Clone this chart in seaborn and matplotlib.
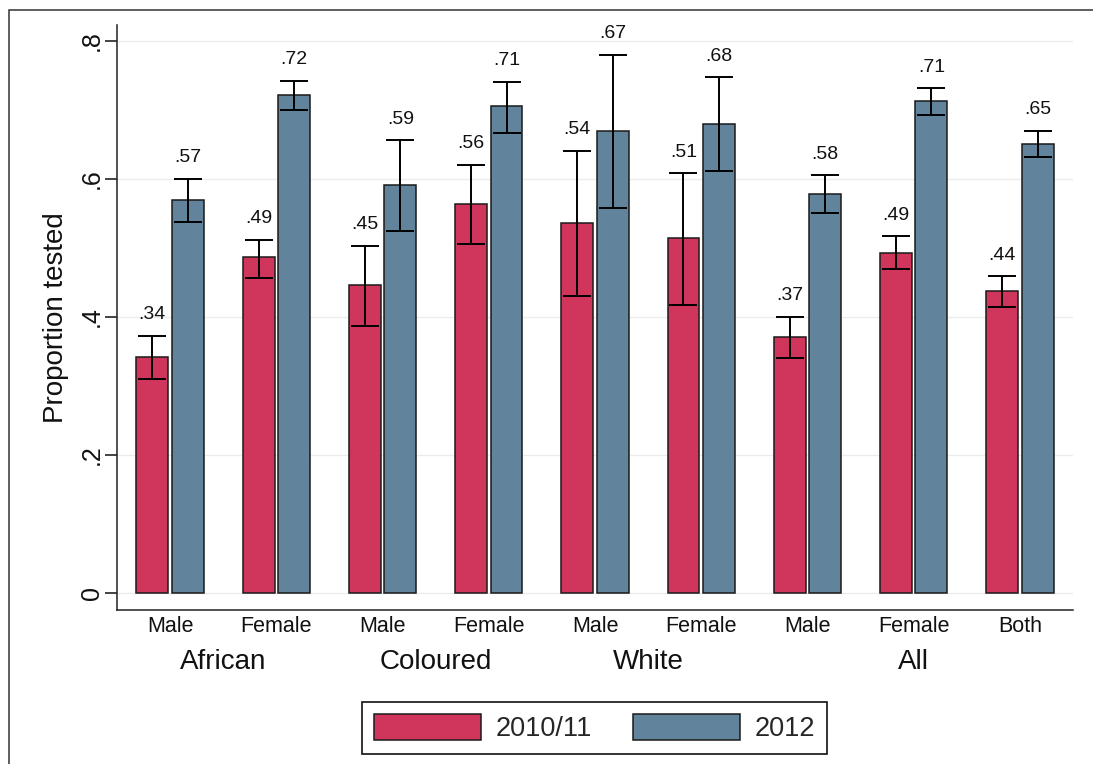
import matplotlib
matplotlib.use("Agg")
import matplotlib.pyplot as plt
import matplotlib.transforms as mtransforms
from matplotlib.patches import Rectangle
import numpy as np
import pandas as pd
import seaborn as sns

# ---------------- data ----------------
sub_labels = ["Male", "Female", "Male", "Female", "Male", "Female", "Male", "Female", "Both"]
group_names = ["African", "Coloured", "White", "All"]
group_members = [[0, 1], [2, 3], [4, 5], [6, 7, 8]]
years = ["2010/11", "2012"]

vals_2010 = [0.342, 0.487, 0.447, 0.564, 0.536, 0.514, 0.371, 0.493, 0.437]
lo_2010 = [0.310, 0.457, 0.387, 0.506, 0.430, 0.418, 0.340, 0.469, 0.415]
hi_2010 = [0.373, 0.512, 0.503, 0.620, 0.641, 0.608, 0.400, 0.517, 0.459]

vals_2012 = [0.570, 0.721, 0.591, 0.706, 0.669, 0.680, 0.578, 0.713, 0.651]
lo_2012 = [0.538, 0.700, 0.525, 0.666, 0.558, 0.611, 0.550, 0.693, 0.632]
hi_2012 = [0.600, 0.742, 0.656, 0.741, 0.780, 0.747, 0.605, 0.731, 0.670]

yticks = [0, 0.2, 0.4, 0.6, 0.8]
ytick_labels = ["0", ".2", ".4", ".6", ".8"]

colors = {"2010/11": "#D0365C", "2012": "#61839C"}

# ---------------- build table ----------------
keys = [f"{i}" for i in range(len(sub_labels))]
rows = []
for y, vals in zip(years, [vals_2010, vals_2012]):
    for k, v in zip(keys, vals):
        rows.append({"pos": k, "value": v, "year": y})
df = pd.DataFrame(rows)
lows = {"2010/11": lo_2010, "2012": lo_2012}
highs = {"2010/11": hi_2010, "2012": hi_2012}

# ---------------- plot ----------------
sns.set_theme(style="white")
plt.rcParams["font.family"] = ["Liberation Sans", "DejaVu Sans"]

W, H = 1093, 764
fig = plt.figure(figsize=(W / 100, H / 100), dpi=100)
ax_left, ax_right, ax_top, ax_bottom = 117, 1073, 25, 610
ax = fig.add_axes([ax_left / W, 1 - ax_bottom / H, (ax_right - ax_left) / W, (ax_bottom - ax_top) / H])

sns.barplot(data=df, x="pos", y="value", hue="year", order=keys, hue_order=years,
            palette=colors, width=0.668, gap=0.1, errorbar=None,
            edgecolor="#1a1a1a", linewidth=1.1, saturation=1, ax=ax)

for cont, y in zip(ax.containers, years):
    lo = lows[y]
    hi = highs[y]
    for bar, l, h in zip(cont.patches, lo, hi):
        xc = bar.get_x() + bar.get_width() / 2
        v = bar.get_height()
        ax.errorbar([xc], [v], yerr=[[v - l], [h - v]], fmt="none", ecolor="black",
                    elinewidth=1.4, capsize=10, capthick=1.4, zorder=5)
        ax.annotate(f"{v:.2f}".lstrip("0"), xy=(xc, h), xytext=(0, 12),
                    textcoords="offset points", ha="center", va="baseline",
                    fontsize=14, color="#111111")

ax.set_xlim(-0.5, len(keys) - 0.5)
ax.set_ylim(-0.0246, 0.823)
ax.set_yticks(yticks)
ax.set_yticklabels(ytick_labels, rotation=90, va="center", fontsize=18)
ax.set_xticks(range(len(keys)))
ax.set_xticklabels(sub_labels, fontsize=15.5)
ax.tick_params(axis="x", length=0, pad=4, colors="#111111")
ax.tick_params(axis="y", length=8.6, width=1.1, pad=1, colors="#111111", left=True)
ax.set_xlabel("")
ax.set_ylabel("Proportion tested", fontsize=20, labelpad=8, color="#111111")

ax.yaxis.grid(True, color="#ececec", linewidth=1)
ax.set_axisbelow(True)
for s in ["top", "right"]:
    ax.spines[s].set_visible(False)
for s in ["left", "bottom"]:
    ax.spines[s].set_color("#222222")
    ax.spines[s].set_linewidth(1.1)

# group labels
trans = mtransforms.blended_transform_factory(ax.transData, ax.transAxes)
for name, members in zip(group_names, group_members):
    xc = np.mean(members)
    ax.text(xc, -0.0889, name, transform=trans, ha="center", va="center",
            fontsize=20, color="#111111")

# legend
handles, labels = ax.get_legend_handles_labels()
if ax.get_legend() is not None:
    ax.get_legend().remove()
leg = fig.legend(handles, labels, loc="center", bbox_to_anchor=(0.544, 0.047), ncol=2,
                 fontsize=19.5, handlelength=3.95, handleheight=1.07, handletextpad=0.55,
                 columnspacing=1.5, borderpad=0.45, frameon=True, fancybox=False,
                 edgecolor="#111111", framealpha=1)
leg.get_frame().set_linewidth(1.2)

# outer frame (top and left visible)
fig.patches.append(Rectangle((9 / W, -0.1), 1.2, (1 - 10 / H) + 0.1, transform=fig.transFigure,
                             fill=False, edgecolor="#333333", linewidth=1.1))

fig.savefig("out.png", dpi=100, facecolor="white")
